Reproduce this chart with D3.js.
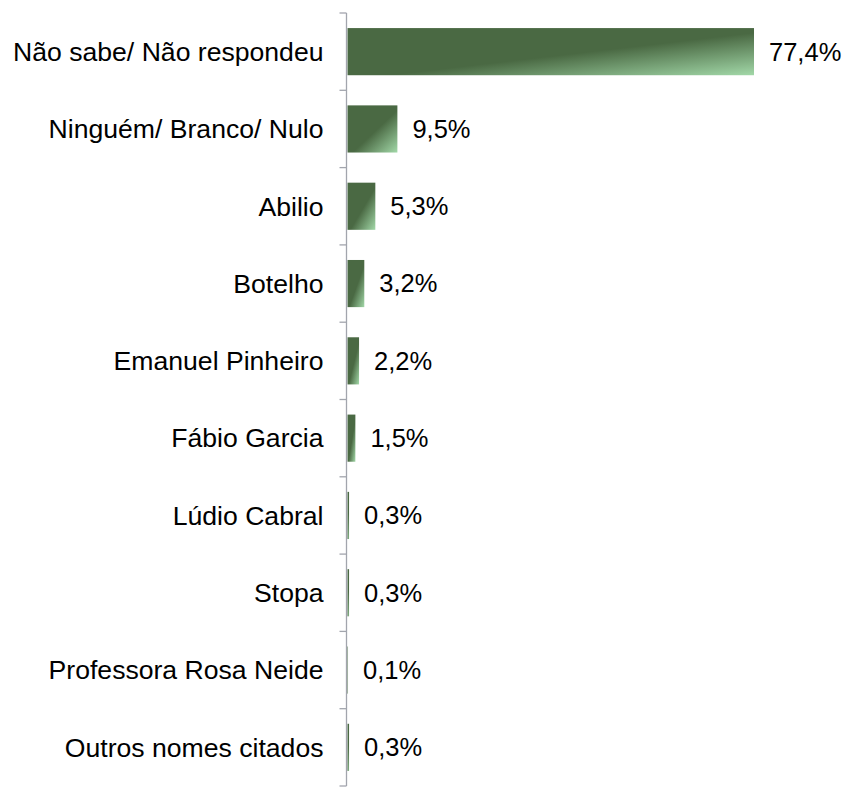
<!DOCTYPE html>
<html>
<head>
<meta charset="utf-8">
<script src="https://cdn.jsdelivr.net/npm/d3@7"></script>
<style>
  body { margin: 0; background: #fff; }
  text { font-family: "Liberation Sans", Arial, sans-serif; }
</style>
</head>
<body>
<div id="chart"></div>
<script>
// data
var categories = ["Não sabe/ Não respondeu", "Ninguém/ Branco/ Nulo", "Abilio", "Botelho",
  "Emanuel Pinheiro", "Fábio Garcia", "Lúdio Cabral", "Stopa", "Professora Rosa Neide", "Outros nomes citados"];
var values = [77.4, 9.5, 5.3, 3.2, 2.2, 1.5, 0.3, 0.3, 0.1, 0.3];
var valueLabels = ["77,4%", "9,5%", "5,3%", "3,2%", "2,2%", "1,5%", "0,3%", "0,3%", "0,1%", "0,3%"];

var width = 848,
    height = 787,
    axisX = 346.5,
    plotTop = 13,
    plotBottom = 786;

var svg = d3.select("#chart").append("svg")
  .attr("width", width)
  .attr("height", height);

// diagonal fade, light corner at bottom right of each bar
var grad = svg.append("defs").append("linearGradient")
  .attr("id", "barFill")
  .attr("x1", 0).attr("y1", 0).attr("x2", 1).attr("y2", 1);
grad.append("stop").attr("offset", 0).attr("stop-color", "#4a6943");
grad.append("stop").attr("offset", 0.55).attr("stop-color", "#4a6943");
grad.append("stop").attr("offset", 1).attr("stop-color", "#a2d8a8");

var x = d3.scaleLinear()
  .domain([0, 77.4])
  .range([axisX + 1, 754]);

var y = d3.scaleBand()
  .domain(categories)
  .range([plotTop, plotBottom])
  .paddingInner(0.39)
  .paddingOuter(0.195);

var step = y.step();

// bars
svg.selectAll("rect.bar")
  .data(values)
  .enter()
  .append("rect")
  .attr("class", "bar")
  .attr("x", x(0))
  .attr("y", function(d, i) { return y(categories[i]); })
  .attr("width", function(d) { return x(d) - x(0); })
  .attr("height", y.bandwidth())
  .style("fill", "url(#barFill)");

// axis line and ticks between categories
svg.append("line")
  .attr("x1", axisX).attr("x2", axisX)
  .attr("y1", plotTop).attr("y2", plotBottom)
  .style("stroke", "#a2a5ad")
  .style("stroke-width", 1.3);

svg.selectAll("line.tick")
  .data(d3.range(categories.length + 1))
  .enter()
  .append("line")
  .attr("class", "tick")
  .attr("x1", axisX - 7).attr("x2", axisX)
  .attr("y1", function(i) { return plotTop + i * step; })
  .attr("y2", function(i) { return plotTop + i * step; })
  .style("stroke", "#a2a5ad")
  .style("stroke-width", 1.3);

// category labels
svg.selectAll("text.cat")
  .data(categories)
  .enter()
  .append("text")
  .attr("class", "cat")
  .attr("x", axisX - 23)
  .attr("y", function(d) { return y(d) + y.bandwidth() / 2; })
  .attr("dy", "0.35em")
  .attr("text-anchor", "end")
  .style("font-size", "26.6px")
  .style("fill", "#000")
  .text(function(d) { return d; });

// value labels
svg.selectAll("text.val")
  .data(values)
  .enter()
  .append("text")
  .attr("class", "val")
  .attr("x", function(d) { return x(d) + 15; })
  .attr("y", function(d, i) { return y(categories[i]) + y.bandwidth() / 2; })
  .attr("dy", "0.35em")
  .style("font-size", "25.5px")
  .style("fill", "#000")
  .text(function(d, i) { return valueLabels[i]; });
</script>
</body>
</html>
